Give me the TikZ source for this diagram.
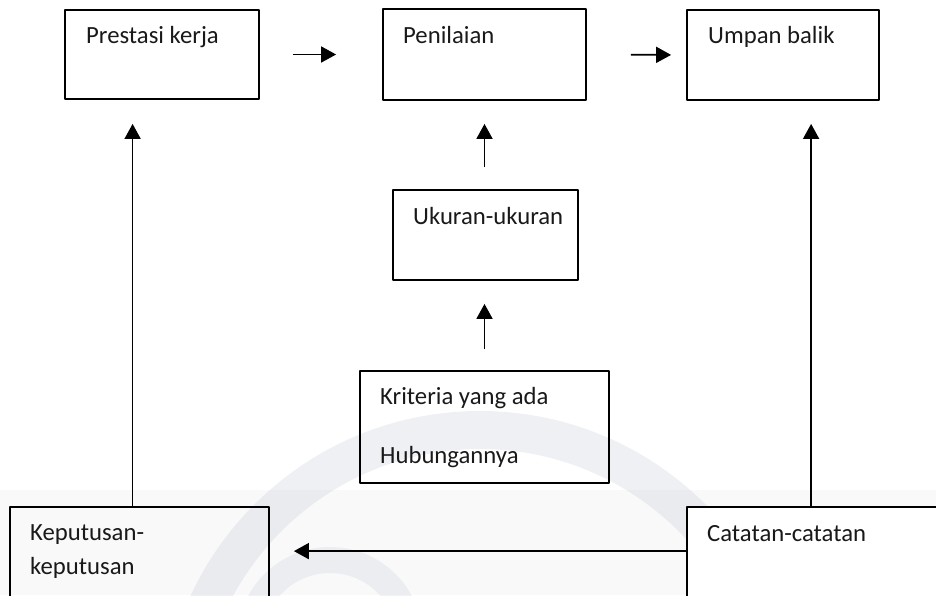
\documentclass[tikz,border=0pt]{standalone}
\usepackage{fontspec}
\setmainfont{Carlito}
\usetikzlibrary{arrows.meta,calc}
\definecolor{bayang}{RGB}{200,204,218}
\tikzset{
	kotak/.style={draw, line width=1.8pt, inner sep=0pt},
	teks/.style={anchor=base west, inner sep=0pt, text=black!90, font=\fontsize{24.7}{30}\selectfont},
	panah/.style={line width=1.7pt, -{Triangle[length=15pt,width=16pt]}}
}
\begin{document}
\begin{tikzpicture}[x=1pt, y=-1pt, line join=round]
	\clip (0,0) rectangle (936,595);
	% latar belakang (tanda air)
	\fill[gray!5] (0,490) rectangle (936,595);
	\draw[bayang, line width=38pt, opacity=.3] (480,730) circle (300pt);
	\draw[bayang, line width=26pt, opacity=.25] (330,640) circle (80pt);
	% kotak baris atas
	\node[kotak, minimum width=194pt, minimum height=89pt] (prestasi) at (162,54.5) {};
	\node[kotak, minimum width=203pt, minimum height=91pt] (penilaian) at (484.5,54.5) {};
	\node[kotak, minimum width=192pt, minimum height=90pt] (umpan) at (783,55) {};
	% kotak tengah
	\node[kotak, fill=white, minimum width=185pt, minimum height=90pt] (ukuran) at (485.5,235) {};
	\node[kotak, minimum width=249pt, minimum height=112pt] (kriteria) at (484.5,427) {};
	% kotak bawah (terpotong)
	\node[kotak, minimum width=259pt, minimum height=113pt] (keputusan) at (139.5,563.5) {};
	\node[kotak, fill=white, minimum width=273pt, minimum height=113pt] (catatan) at (823.5,563.5) {};
	% teks
	\node[teks] (prestasi-t) at (86,43) {Prestasi kerja};
	\node[teks] (penilaian-t) at (403,43) {Penilaian};
	\node[teks] (umpan-t) at (708,43) {Umpan balik};
	\node[teks] (ukuran-t) at (413,224) {Ukuran-ukuran};
	\node[teks] (kriteria-t) at (380,404) {Kriteria yang ada};
	\node[teks] (hubungan-t) at (380,463) {Hubungannya};
	\node[teks] (keputusan-t) at (30,540) {Keputusan-};
	\node[teks] (keputusan-t2) at (30,574) {keputusan};
	\node[teks] (catatan-t) at (707,541) {Catatan-catatan};
	% titik bantu
	\coordinate (kiri) at ([xshift=123.5pt]keputusan.north west);
	\coordinate (kanan) at ([xshift=125pt]catatan.north west);
	\coordinate (tengah) at ([yshift=-45pt]catatan.north west);
	% panah
	\draw[panah, shorten <=33pt, shorten >=46pt] (prestasi.east) -- (penilaian.west);
	\draw[panah, shorten <=44pt, shorten >=15pt] (penilaian.east) -- (umpan.west);
	\draw[panah, shorten <=22pt, shorten >=23pt] (penilaian.south |- ukuran.north) -- (penilaian.south);
	\draw[panah, shorten <=21pt, shorten >=23pt] (kriteria.north) -- (kriteria.north |- ukuran.south);
	\draw[panah, shorten >=24pt] (kiri) -- (kiri |- prestasi.south);
	\draw[panah, shorten >=23pt] (kanan) -- (kanan |- umpan.south);
	\draw[panah, shorten >=24pt] (tengah) -- (tengah -| keputusan.east);
\end{tikzpicture}
\end{document}
